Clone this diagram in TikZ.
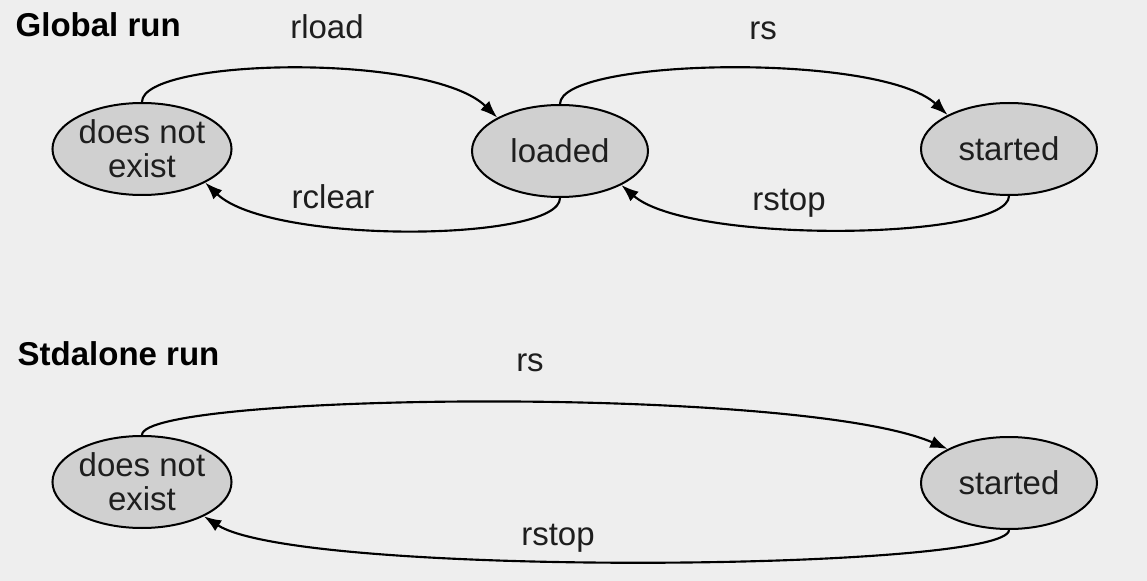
\documentclass[tikz,border=0pt]{standalone}
\usepackage{fontspec}
\setmainfont{Liberation Sans}
\usetikzlibrary{arrows.meta,shapes.geometric}

\definecolor{bgcol}{HTML}{EEEEEE}
\definecolor{statecol}{HTML}{D0D0D0}
\definecolor{inkcol}{HTML}{1E1E1E}

\tikzset{
  state/.style={ellipse, draw=black, fill=statecol, line width=1.5pt,
    minimum width=132pt, minimum height=69pt, inner sep=0pt,
    align=center, text=inkcol},
  trans/.style={draw=black, line width=1.6pt, -{Latex[length=13pt,width=9.5pt]}},
  lbl/.style={text=inkcol},
  runtitle/.style={anchor=west, font=\fontsize{24.75}{25.5}\selectfont\bfseries, text=black}
}

\begin{document}
\begin{tikzpicture}[x=0.75pt, y=-0.75pt, font=\fontsize{24.75}{25.5}\selectfont]
\fill [bgcol] (0, 0) rectangle (1147, 581);
\useasboundingbox (0, 0) rectangle (1147, 581);

% global run
\begin{scope}[shift={(0, 0)}]
\node [runtitle] (gtitle) at (11, 25) {Global run};
\node [state] (gnone)    at (142, 149)  {does not\\exist};
\node [state] (gloaded)  at (560, 151)  {loaded};
\node [state] (gstarted) at (1009, 149) {started};
\draw [trans] (gnone.north) .. controls (142, 58) and (430, 52) .. (gloaded.152);
\draw [trans] (gloaded.north) .. controls (560, 58) and (880, 52) .. (gstarted.151);
\draw [trans] (gloaded.south) .. controls (560, 242) and (270, 245) .. (gnone.-28);
\draw [trans] (gstarted.south) .. controls (1009, 240) and (690, 245) .. (gloaded.-29);
\node [lbl] (grload)  at (327, 27)  {rload};
\node [lbl] (grs)     at (763, 31)  {rs};
\node [lbl] (grclear) at (333, 197) {rclear};
\node [lbl] (grstop)  at (789, 203) {rstop};
\end{scope}

% standalone run
\begin{scope}[shift={(0, 333)}]
\node [runtitle] (stitle) at (13, 21) {Stdalone run};
\node [state] (snone)    at (142, 149)  {does not\\exist};
\node [state] (sstarted) at (1009, 150) {started};
\draw [trans] (snone.north) .. controls (142, 60) and (800, 52) .. (sstarted.151);
\draw [trans] (sstarted.south) .. controls (1009, 238) and (300, 245) .. (snone.-29);
\node [lbl] (srs)   at (530, 30)  {rs};
\node [lbl] (srstop) at (558, 205) {rstop};
\end{scope}
\end{tikzpicture}
\end{document}
